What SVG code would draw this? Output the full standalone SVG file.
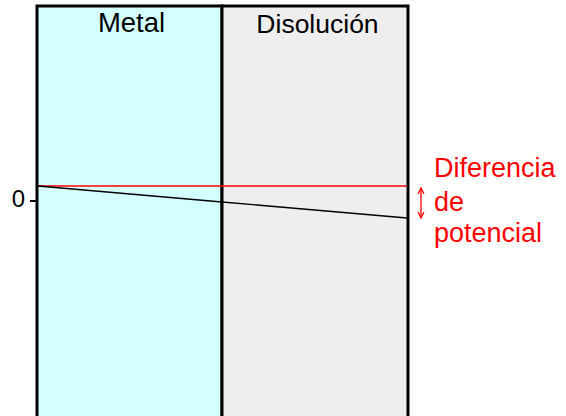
<svg xmlns="http://www.w3.org/2000/svg" width="566" height="416" viewBox="0 0 566 416">
<style>
.lbl{font-family:"Liberation Sans",Arial,sans-serif;fill:#000}
.red{font-family:"Liberation Sans",Arial,sans-serif;fill:#ff0000;font-size:27px}
</style>
<defs>
<marker id="ah" viewBox="0 0 8 8" refX="7" refY="4" markerWidth="6" markerHeight="6" orient="auto-start-reverse">
<path d="M1,1 L7,4 L1,7" fill="none" stroke="#ff0000" stroke-width="1.3"/>
</marker>
</defs>
<rect width="566" height="416" fill="#fff"/>
<g id="metal">
<rect x="37" y="6" width="185" height="412" fill="#d4ffff" stroke="#000" stroke-width="3"/>
<text class="lbl" x="131.5" y="32" font-size="27.5" text-anchor="middle">Metal</text>
</g>
<g id="disolucion">
<rect x="222" y="6" width="186" height="412" fill="#eeeeee" stroke="#000" stroke-width="3"/>
<text class="lbl" x="317.5" y="33" font-size="26.5" text-anchor="middle">Disolución</text>
</g>
<g id="axis">
<line x1="30" y1="201" x2="37" y2="201" stroke="#000" stroke-width="2"/>
<text class="lbl" x="18.5" y="207" font-size="24" text-anchor="middle">0</text>
</g>
<g id="connectors">
<line x1="38" y1="186" x2="407" y2="186" stroke="#ff0000" stroke-width="1.5"/>
<polyline points="38,186 222,202 407,218" fill="none" stroke="#000" stroke-width="1.3"/>
<line x1="421" y1="188" x2="421" y2="218" stroke="#ff0000" stroke-width="1.3" marker-start="url(#ah)" marker-end="url(#ah)"/>
</g>
<g id="label">
<text class="red" x="434" y="177">Diferencia</text>
<text class="red" x="434" y="211">de</text>
<text class="red" x="434" y="242">potencial</text>
</g>
</svg>
